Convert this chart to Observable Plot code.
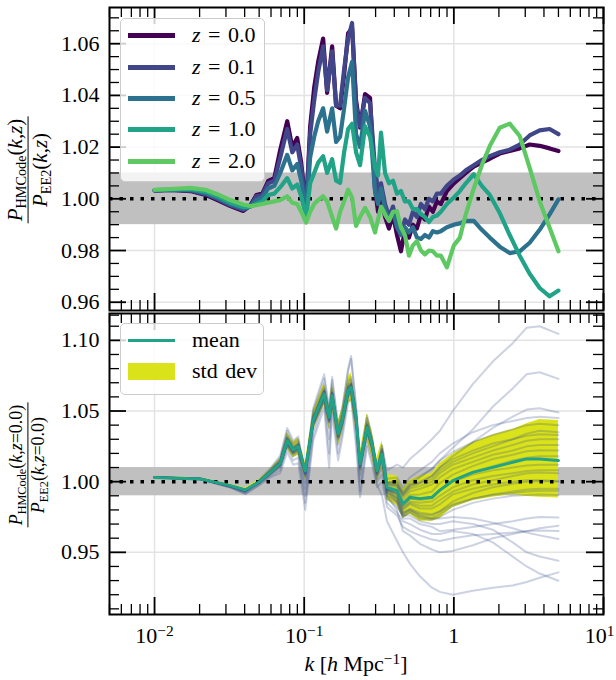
<!DOCTYPE html>
<html><head><meta charset="utf-8">
<script src="https://cdn.jsdelivr.net/npm/d3@7"></script>
<script src="https://cdn.jsdelivr.net/npm/@observablehq/plot@0.6"></script>
<style>
body{margin:0;background:#fff;}
#wrap{position:relative;width:616px;height:680px;overflow:hidden;font-family:'Liberation Serif','DejaVu Serif',serif;color:#000;}
#top,#bot{position:absolute;left:0;}
#top{top:0}
#bot{top:311px}
.legend{position:absolute;background:rgba(255,255,255,0.8);border:1.3px solid #cccccc;border-radius:5px;box-sizing:border-box;}
.sw{position:absolute;left:7px;width:47px;}
.lt{position:absolute;left:71px;font-size:22px;line-height:1;white-space:nowrap;word-spacing:2px;}
.ylab{position:absolute;transform:translate(-50%,-50%) rotate(-90deg);display:flex;flex-direction:column;align-items:center;white-space:nowrap;line-height:0.95;}
.ylab .num{border-bottom:1px solid #000;padding:0 2px 2px;}
.ylab .den{padding-top:2px;}
.ylab sub{font-size:0.68em;vertical-align:-0.3em;line-height:0;}
.xlab{position:absolute;left:356px;top:653px;transform:translateX(-50%);font-size:22px;white-space:nowrap;line-height:1;}
.xlab sup{font-size:0.7em;vertical-align:0.45em;line-height:0;}
</style></head><body>
<div id="wrap">
  <div id="top"></div>
  <div id="bot"></div>
</div>
<script>
// ---------------- DATA ----------------
const zLabels = ["0.0", "0.1", "0.5", "1.0", "2.0"];
const zColors = ["#440154", "#404688", "#2c718e", "#20a386", "#5ec962"];

const kTop = [0.0100, 0.0128, 0.0174, 0.0219, 0.0263, 0.0321, 0.0392, 0.0437, 0.0479, 0.0525, 0.0575, 0.0631, 0.0692, 0.0770, 0.0832, 0.0898, 0.0955, 0.1031, 0.1096, 0.1166, 0.1240, 0.1338, 0.1423, 0.1537, 0.1634, 0.1738, 0.1848, 0.1965, 0.2089, 0.2222, 0.2362, 0.2551, 0.2754, 0.2972, 0.3114, 0.3261, 0.3467, 0.3686, 0.3920, 0.4169, 0.4432, 0.4713, 0.5012, 0.5329, 0.5667, 0.6026, 0.6407, 0.6813, 0.7244, 0.7703, 0.8191, 0.8983, 1.000, 1.096, 1.202, 1.359, 1.537, 1.738, 2.026, 2.362, 2.754, 3.211, 3.744, 4.365, 5.000];

const ratioZ00 = [1.0032, 1.0034, 1.0030, 1.0015, 0.9995, 0.9972, 0.9953, 0.9975, 1.0015, 1.0020, 1.0069, 1.0080, 1.0190, 1.0300, 1.0200, 1.0235, 1.0140, 0.9960, 1.0280, 1.0430, 1.0530, 1.0620, 1.0410, 1.0590, 1.0360, 1.0350, 1.0480, 1.0640, 1.0660, 1.0380, 1.0275, 1.0405, 1.0390, 1.0040, 0.9950, 1.0020, 0.9930, 0.9885, 0.9940, 0.9860, 0.9797, 0.9880, 0.9850, 0.9900, 0.9885, 0.9940, 0.9920, 0.9970, 0.9950, 0.9990, 0.9980, 1.0030, 1.0060, 1.0080, 1.0100, 1.0125, 1.0140, 1.0155, 1.0175, 1.0185, 1.0195, 1.0210, 1.0205, 1.0195, 1.0185];
const ratioZ01 = [1.0033, 1.0034, 1.0032, 1.0018, 1.0000, 0.9975, 0.9958, 0.9972, 1.0010, 1.0015, 1.0060, 1.0070, 1.0160, 1.0270, 1.0180, 1.0210, 1.0120, 0.9958, 1.0250, 1.0380, 1.0490, 1.0590, 1.0420, 1.0570, 1.0360, 1.0360, 1.0500, 1.0620, 1.0680, 1.0360, 1.0280, 1.0390, 1.0370, 1.0120, 1.0030, 1.0060, 0.9980, 0.9930, 0.9970, 0.9900, 0.9860, 0.9920, 0.9900, 0.9950, 0.9930, 0.9980, 0.9960, 1.0000, 0.9990, 1.0020, 1.0020, 1.0050, 1.0075, 1.0090, 1.0110, 1.0130, 1.0150, 1.0165, 1.0180, 1.0190, 1.0210, 1.0245, 1.0265, 1.0270, 1.0250];
const ratioZ05 = [1.0033, 1.0035, 1.0035, 1.0022, 1.0004, 0.9980, 0.9962, 0.9970, 0.9995, 1.0005, 1.0040, 1.0050, 1.0100, 1.0170, 1.0110, 1.0135, 1.0070, 0.9945, 1.0160, 1.0240, 1.0300, 1.0350, 1.0260, 1.0350, 1.0220, 1.0240, 1.0350, 1.0470, 1.0530, 1.0250, 1.0200, 1.0340, 1.0280, 1.0030, 0.9980, 1.0040, 0.9960, 0.9920, 0.9950, 0.9890, 0.9860, 0.9890, 0.9870, 0.9890, 0.9850, 0.9845, 0.9860, 0.9850, 0.9875, 0.9870, 0.9875, 0.9890, 0.9900, 0.9905, 0.9915, 0.9915, 0.9880, 0.9850, 0.9815, 0.9790, 0.9797, 0.9830, 0.9880, 0.9940, 0.9998];
const ratioZ10 = [1.0034, 1.0036, 1.0038, 1.0028, 1.0010, 0.9985, 0.9968, 0.9970, 0.9980, 0.9990, 1.0015, 1.0020, 1.0045, 1.0080, 1.0040, 1.0055, 1.0010, 0.9930, 1.0060, 1.0100, 1.0140, 1.0165, 1.0100, 1.0153, 1.0070, 1.0062, 1.0180, 1.0270, 1.0290, 1.0180, 1.0130, 1.0280, 1.0240, 1.0120, 1.0090, 1.0256, 1.0100, 1.0060, 1.0070, 1.0020, 1.0030, 0.9990, 0.9990, 0.9960, 0.9960, 0.9940, 0.9930, 0.9910, 0.9930, 0.9935, 0.9950, 0.9980, 1.0005, 1.0030, 1.0060, 1.0095, 1.0050, 1.0015, 0.9945, 0.9860, 0.9780, 0.9710, 0.9655, 0.9623, 0.9645];
const ratioZ20 = [1.0035, 1.0038, 1.0042, 1.0035, 1.0018, 0.9995, 0.9978, 0.9972, 0.9975, 0.9980, 0.9985, 0.9990, 0.9995, 1.0010, 0.9985, 0.9980, 0.9950, 0.9908, 0.9950, 0.9980, 0.9995, 1.0010, 0.9990, 0.9930, 0.9885, 0.9950, 0.9990, 1.0035, 1.0005, 0.9895, 0.9930, 0.9965, 0.9930, 0.9870, 0.9920, 0.9970, 0.9940, 0.9914, 0.9950, 0.9952, 0.9890, 0.9860, 0.9780, 0.9820, 0.9836, 0.9800, 0.9785, 0.9800, 0.9797, 0.9780, 0.9780, 0.9735, 0.9820, 0.9849, 0.9940, 1.0040, 1.0130, 1.0204, 1.0275, 1.0291, 1.0243, 1.0120, 0.9991, 0.9888, 0.9797];

const kBot = [0.0100, 0.0203, 0.0321, 0.0404, 0.0494, 0.0593, 0.0692, 0.0770, 0.0845, 0.0912, 0.1016, 0.1148, 0.1359, 0.1468, 0.1537, 0.1686, 0.1793, 0.1965, 0.2057, 0.2222, 0.2362, 0.2630, 0.2840, 0.3067, 0.3311, 0.3575, 0.4169, 0.4571, 0.5088, 0.5933, 0.7134, 0.8066, 0.9848, 1.339, 1.820, 2.474, 3.067, 3.744, 5.000];
const meanRatio = [1.0030, 1.0019, 0.9972, 0.9941, 0.9995, 1.0066, 1.0130, 1.0290, 1.0225, 1.0250, 1.0075, 1.0432, 1.0621, 1.0455, 1.0609, 1.0338, 1.0432, 1.0644, 1.0668, 1.0455, 1.0125, 1.0385, 1.0267, 1.0078, 1.0196, 0.9960, 0.9936, 0.9842, 0.9889, 0.9880, 0.9889, 0.9940, 1.0007, 1.0066, 1.0101, 1.0137, 1.0161, 1.0161, 1.0149];
const stdLo = [1.0022, 1.0011, 0.9962, 0.9928, 0.9982, 1.0045, 1.0095, 1.0230, 1.0170, 1.0190, 1.0010, 1.0360, 1.0540, 1.0370, 1.0520, 1.0250, 1.0340, 1.0550, 1.0570, 1.0360, 1.0040, 1.0290, 1.0170, 0.9990, 1.0100, 0.9870, 0.9830, 0.9740, 0.9770, 0.9720, 0.9720, 0.9740, 0.9818, 0.9865, 0.9890, 0.9910, 0.9895, 0.9890, 0.9885];
const stdHi = [1.0038, 1.0027, 0.9982, 0.9955, 1.0012, 1.0087, 1.0165, 1.0350, 1.0280, 1.0310, 1.0140, 1.0500, 1.0700, 1.0540, 1.0700, 1.0430, 1.0520, 1.0740, 1.0770, 1.0550, 1.0210, 1.0480, 1.0360, 1.0170, 1.0290, 1.0050, 1.0040, 0.9950, 1.0010, 1.0040, 1.0060, 1.0130, 1.0196, 1.0278, 1.0330, 1.0370, 1.0410, 1.0440, 1.0432];

const realA = [1.0032, 1.0020, 0.9968, 0.9936, 0.9998, 1.0075, 1.0145, 1.0310, 1.0235, 1.0265, 1.0060, 1.0450, 1.0650, 1.0440, 1.0630, 1.0320, 1.0440, 1.0680, 1.0700, 1.0440, 1.0100, 1.0400, 1.0270, 1.0100, 1.0250, 1.0080, 1.0120, 1.0100, 1.0160, 1.0220, 1.0300, 1.0360, 1.0500, 1.0690, 1.0850, 1.0980, 1.1090, 1.1100, 1.1046];
const realB = [1.0031, 1.0019, 0.9970, 0.9940, 0.9996, 1.0070, 1.0140, 1.0300, 1.0230, 1.0260, 1.0070, 1.0440, 1.0640, 1.0460, 1.0620, 1.0340, 1.0450, 1.0660, 1.0690, 1.0460, 1.0130, 1.0390, 1.0280, 1.0090, 1.0210, 0.9980, 0.9980, 0.9920, 0.9980, 1.0030, 1.0090, 1.0150, 1.0240, 1.0370, 1.0530, 1.0660, 1.0760, 1.0774, 1.0727];
const realC = [1.0033, 1.0021, 0.9965, 0.9930, 1.0000, 1.0085, 1.0170, 1.0360, 1.0270, 1.0300, 1.0050, 1.0500, 1.0730, 1.0500, 1.0720, 1.0380, 1.0500, 1.0780, 1.0870, 1.0520, 1.0120, 1.0450, 1.0300, 1.0060, 1.0230, 0.9990, 0.9970, 0.9900, 0.9960, 0.9990, 1.0040, 1.0100, 1.0180, 1.0280, 1.0380, 1.0460, 1.0510, 1.0520, 1.0490];
const realD = [1.0028, 1.0016, 0.9960, 0.9915, 0.9975, 1.0040, 1.0080, 1.0240, 1.0150, 1.0170, 0.9850, 1.0320, 1.0560, 1.0200, 1.0520, 1.0200, 1.0340, 1.0600, 1.0620, 1.0300, 0.9930, 1.0280, 1.0150, 0.9980, 0.9900, 0.9720, 0.9580, 0.9500, 0.9420, 0.9330, 0.9250, 0.9220, 0.9200, 0.9228, 0.9250, 0.9265, 0.9290, 0.9320, 0.9358];
const realE = [1.0029, 1.0017, 0.9962, 0.9925, 0.9985, 1.0050, 1.0100, 1.0260, 1.0180, 1.0200, 0.9900, 1.0360, 1.0580, 1.0300, 1.0560, 1.0260, 1.0380, 1.0620, 1.0640, 1.0380, 1.0000, 1.0330, 1.0200, 1.0000, 1.0050, 0.9850, 0.9780, 0.9720, 0.9700, 0.9660, 0.9630, 0.9630, 0.9650, 0.9630, 0.9570, 0.9470, 0.9400, 0.9350, 0.9299];
const realF = [1.0030, 1.0018, 0.9966, 0.9932, 0.9990, 1.0060, 1.0115, 1.0270, 1.0200, 1.0220, 0.9950, 1.0400, 1.0600, 1.0380, 1.0590, 1.0300, 1.0410, 1.0630, 1.0650, 1.0420, 1.0050, 1.0360, 1.0230, 1.0020, 1.0100, 0.9880, 0.9820, 0.9760, 0.9760, 0.9720, 0.9700, 0.9700, 0.9720, 0.9700, 0.9660, 0.9570, 0.9500, 0.9470, 0.9440];
const realG = [1.0031, 1.0019, 0.9968, 0.9936, 0.9992, 1.0062, 1.0120, 1.0280, 1.0210, 1.0235, 0.9990, 1.0410, 1.0610, 1.0420, 1.0600, 1.0320, 1.0420, 1.0640, 1.0660, 1.0440, 1.0080, 1.0370, 1.0240, 1.0030, 1.0120, 0.9900, 0.9800, 0.9650, 0.9620, 0.9560, 0.9520, 0.9500, 0.9510, 0.9550, 0.9600, 0.9630, 0.9650, 0.9670, 0.9688];
const realH = [1.0030, 1.0019, 0.9970, 0.9938, 0.9994, 1.0064, 1.0125, 1.0285, 1.0218, 1.0242, 1.0030, 1.0420, 1.0615, 1.0440, 1.0605, 1.0330, 1.0425, 1.0640, 1.0665, 1.0450, 1.0110, 1.0380, 1.0255, 1.0050, 1.0150, 0.9930, 0.9860, 0.9740, 0.9740, 0.9700, 0.9680, 0.9650, 0.9660, 0.9680, 0.9700, 0.9720, 0.9740, 0.9750, 0.9747];
const realI = [1.0031, 1.0020, 0.9971, 0.9940, 0.9996, 1.0068, 1.0135, 1.0295, 1.0228, 1.0255, 1.0060, 1.0440, 1.0630, 1.0460, 1.0615, 1.0340, 1.0440, 1.0655, 1.0680, 1.0460, 1.0130, 1.0390, 1.0270, 1.0070, 1.0180, 0.9950, 0.9880, 0.9780, 0.9800, 0.9760, 0.9740, 0.9740, 0.9750, 0.9740, 0.9710, 0.9670, 0.9640, 0.9620, 0.9594];
const realJ = [1.0031, 1.0020, 0.9973, 0.9943, 0.9998, 1.0070, 1.0140, 1.0305, 1.0235, 1.0262, 1.0090, 1.0450, 1.0640, 1.0470, 1.0625, 1.0350, 1.0445, 1.0660, 1.0690, 1.0470, 1.0140, 1.0400, 1.0280, 1.0090, 1.0210, 0.9990, 1.0000, 0.9920, 0.9980, 0.9990, 1.0020, 1.0080, 1.0140, 1.0200, 1.0250, 1.0300, 1.0340, 1.0360, 1.0350];
const realK = [1.0030, 1.0019, 0.9972, 0.9941, 0.9995, 1.0066, 1.0128, 1.0285, 1.0222, 1.0246, 1.0078, 1.0428, 1.0612, 1.0458, 1.0602, 1.0340, 1.0430, 1.0638, 1.0662, 1.0452, 1.0128, 1.0382, 1.0265, 1.0080, 1.0196, 0.9970, 0.9960, 0.9880, 0.9930, 0.9950, 0.9980, 1.0030, 1.0090, 1.0140, 1.0190, 1.0220, 1.0250, 1.0260, 1.0260];
const realL = [1.0029, 1.0018, 0.9970, 0.9938, 0.9992, 1.0060, 1.0120, 1.0275, 1.0212, 1.0238, 1.0060, 1.0415, 1.0605, 1.0440, 1.0590, 1.0325, 1.0420, 1.0625, 1.0650, 1.0440, 1.0110, 1.0370, 1.0255, 1.0060, 1.0180, 0.9940, 0.9920, 0.9830, 0.9880, 0.9870, 0.9880, 0.9940, 1.0010, 1.0070, 1.0110, 1.0150, 1.0170, 1.0180, 1.0180];
const realM = [1.0031, 1.0020, 0.9974, 0.9944, 1.0000, 1.0072, 1.0140, 1.0300, 1.0238, 1.0262, 1.0090, 1.0445, 1.0635, 1.0470, 1.0625, 1.0350, 1.0445, 1.0660, 1.0685, 1.0465, 1.0135, 1.0395, 1.0275, 1.0085, 1.0200, 0.9950, 0.9910, 0.9810, 0.9850, 0.9830, 0.9830, 0.9870, 0.9930, 0.9980, 1.0010, 1.0040, 1.0060, 1.0065, 1.0060];
const realN = [1.0030, 1.0019, 0.9971, 0.9939, 0.9993, 1.0063, 1.0125, 1.0282, 1.0218, 1.0244, 1.0065, 1.0425, 1.0612, 1.0448, 1.0600, 1.0330, 1.0425, 1.0636, 1.0660, 1.0448, 1.0118, 1.0378, 1.0260, 1.0070, 1.0185, 0.9930, 0.9890, 0.9780, 0.9810, 0.9780, 0.9770, 0.9790, 0.9840, 0.9880, 0.9910, 0.9930, 0.9945, 0.9950, 0.9950];
const realO = [1.0029, 1.0018, 0.9968, 0.9935, 0.9988, 1.0055, 1.0110, 1.0265, 1.0200, 1.0225, 1.0040, 1.0400, 1.0590, 1.0420, 1.0575, 1.0310, 1.0405, 1.0610, 1.0635, 1.0420, 1.0090, 1.0355, 1.0240, 1.0050, 1.0160, 0.9900, 0.9850, 0.9750, 0.9780, 0.9740, 0.9730, 0.9750, 0.9800, 0.9850, 0.9880, 0.9900, 0.9905, 0.9910, 0.9905];
const realP = [1.0034, 1.0022, 0.9963, 0.9925, 1.0005, 1.0095, 1.0185, 1.0380, 1.0290, 1.0320, 1.0060, 1.0520, 1.0760, 1.0520, 1.0740, 1.0400, 1.0520, 1.0800, 1.0890, 1.0540, 1.0150, 1.0470, 1.0320, 1.0080, 1.0260, 1.0020, 1.0030, 0.9960, 1.0030, 1.0080, 1.0140, 1.0200, 1.0270, 1.0350, 1.0400, 1.0430, 1.0450, 1.0460, 1.0450];
const realQ = [1.0027, 1.0015, 0.9958, 0.9912, 0.9970, 1.0030, 1.0060, 1.0210, 1.0120, 1.0130, 0.9800, 1.0290, 1.0520, 1.0100, 1.0480, 1.0150, 1.0300, 1.0560, 1.0590, 1.0250, 0.9890, 1.0250, 1.0120, 0.9960, 1.0000, 0.9820, 0.9760, 0.9680, 0.9650, 0.9620, 0.9590, 0.9580, 0.9600, 0.9620, 0.9630, 0.9640, 0.9650, 0.9655, 0.9650];
const realR = [1.0030, 1.0020, 0.9969, 0.9937, 0.9997, 1.0072, 1.0142, 1.0305, 1.0232, 1.0258, 1.0070, 1.0445, 1.0640, 1.0455, 1.0625, 1.0335, 1.0440, 1.0665, 1.0690, 1.0455, 1.0120, 1.0395, 1.0270, 1.0075, 1.0205, 0.9975, 0.9975, 0.9900, 0.9950, 0.9970, 1.0000, 1.0060, 1.0120, 1.0170, 1.0220, 1.0260, 1.0290, 1.0300, 1.0300];
const realS = [1.0030, 1.0018, 0.9970, 0.9939, 0.9992, 1.0062, 1.0122, 1.0280, 1.0215, 1.0240, 1.0070, 1.0420, 1.0610, 1.0445, 1.0598, 1.0330, 1.0425, 1.0635, 1.0660, 1.0450, 1.0118, 1.0378, 1.0262, 1.0072, 1.0188, 0.9945, 0.9905, 0.9800, 0.9840, 0.9810, 0.9810, 0.9840, 0.9910, 0.9950, 0.9980, 1.0000, 1.0010, 1.0010, 1.0005];
const realT = [1.0031, 1.0020, 0.9970, 0.9938, 0.9998, 1.0074, 1.0148, 1.0320, 1.0245, 1.0272, 1.0070, 1.0460, 1.0660, 1.0470, 1.0640, 1.0350, 1.0455, 1.0690, 1.0720, 1.0470, 1.0130, 1.0410, 1.0285, 1.0085, 1.0220, 0.9990, 1.0010, 0.9940, 1.0000, 1.0040, 1.0090, 1.0150, 1.0210, 1.0280, 1.0330, 1.0370, 1.0400, 1.0410, 1.0400];
const realU = [1.0030, 1.0019, 0.9971, 0.9940, 0.9994, 1.0064, 1.0128, 1.0288, 1.0222, 1.0248, 1.0072, 1.0428, 1.0618, 1.0452, 1.0606, 1.0336, 1.0430, 1.0641, 1.0665, 1.0452, 1.0122, 1.0382, 1.0264, 1.0076, 1.0192, 0.9955, 0.9945, 0.9860, 0.9905, 0.9910, 0.9930, 0.9990, 1.0050, 1.0110, 1.0160, 1.0190, 1.0215, 1.0222, 1.0220];
const realV = [1.0030, 1.0019, 0.9972, 0.9942, 0.9996, 1.0068, 1.0133, 1.0293, 1.0228, 1.0253, 1.0078, 1.0436, 1.0625, 1.0460, 1.0614, 1.0342, 1.0436, 1.0648, 1.0672, 1.0458, 1.0128, 1.0388, 1.0270, 1.0080, 1.0198, 0.9950, 0.9930, 0.9840, 0.9880, 0.9880, 0.9890, 0.9940, 1.0000, 1.0050, 1.0080, 1.0100, 1.0115, 1.0120, 1.0120];
const realW = [1.0029, 1.0018, 0.9969, 0.9936, 0.9990, 1.0058, 1.0118, 1.0272, 1.0208, 1.0232, 1.0055, 1.0412, 1.0600, 1.0436, 1.0585, 1.0320, 1.0415, 1.0620, 1.0645, 1.0436, 1.0105, 1.0365, 1.0250, 1.0058, 1.0175, 0.9925, 0.9880, 0.9770, 0.9800, 0.9770, 0.9760, 0.9790, 0.9860, 0.9920, 0.9960, 0.9985, 1.0000, 1.0005, 1.0000];
const realX = [1.0032, 1.0021, 0.9967, 0.9933, 1.0001, 1.0080, 1.0155, 1.0330, 1.0255, 1.0285, 1.0080, 1.0475, 1.0680, 1.0490, 1.0660, 1.0365, 1.0470, 1.0710, 1.0740, 1.0490, 1.0140, 1.0420, 1.0295, 1.0090, 1.0230, 0.9995, 0.9990, 0.9910, 0.9970, 1.0000, 1.0040, 1.0100, 1.0160, 1.0220, 1.0270, 1.0300, 1.0325, 1.0335, 1.0330];
const realY = [1.0029, 1.0017, 0.9966, 0.9932, 0.9985, 1.0052, 1.0108, 1.0258, 1.0195, 1.0218, 1.0045, 1.0395, 1.0580, 1.0425, 1.0565, 1.0310, 1.0400, 1.0600, 1.0625, 1.0425, 1.0095, 1.0350, 1.0238, 1.0050, 1.0165, 0.9915, 0.9860, 0.9760, 0.9790, 0.9750, 0.9740, 0.9770, 0.9830, 0.9880, 0.9905, 0.9920, 0.9930, 0.9935, 0.9935];
const realZ = [1.0031, 1.0020, 0.9973, 0.9943, 0.9999, 1.0071, 1.0138, 1.0298, 1.0232, 1.0257, 1.0082, 1.0440, 1.0630, 1.0465, 1.0620, 1.0346, 1.0440, 1.0652, 1.0677, 1.0462, 1.0132, 1.0392, 1.0272, 1.0082, 1.0202, 0.9945, 0.9920, 0.9820, 0.9860, 0.9850, 0.9860, 0.9900, 0.9960, 1.0010, 1.0040, 1.0060, 1.0075, 1.0080, 1.0080];
const realizations = [realA, realB, realC, realD, realE, realF, realG, realH, realI, realJ, realK, realL, realM, realN, realO, realP, realQ, realR, realS, realT, realU, realV, realW, realX, realY, realZ];

const bandLo = 0.99, bandHi = 1.01, unity = 1.0;
const xDomain = [0.005, 10];
const xMajor = [0.01, 0.1, 1, 10];
const xTickLabels = ["10^−2", "10^−1", "1", "10^1"];
const yMajorTop = [0.96, 0.98, 1.00, 1.02, 1.04, 1.06];
const yMajorBot = [0.95, 1.00, 1.05, 1.10];

// ---------------- HELPERS ----------------
const xMinor = [];
for (const d of [0.001, 0.01, 0.1, 1]) for (let m = 2; m <= 9; m++) { const v = +(m * d).toPrecision(3); if (v >= 0.005 && v <= 10 && !xMajor.includes(v)) xMinor.push(v); }
const W = 616, ML = 109, MR = 13, PW = W - ML - MR;
const fontStyle = {fontFamily: "'Liberation Serif','DejaVu Serif',serif", fontSize: "22px", background: "transparent", color: "black", overflow: "visible"};

function tickMarks(xMaj, xMin, yMaj, yMin, PH) {
  const maj = 17, mi = 10, sw1 = 1.8, sw2 = 1.3;
  return [
    Plot.ruleX(xMaj, {x: d => d, insetBottom: PH - maj, stroke: "black", strokeWidth: sw1}),
    Plot.ruleX(xMaj, {x: d => d, insetTop: PH - maj, stroke: "black", strokeWidth: sw1}),
    Plot.ruleX(xMin, {x: d => d, insetBottom: PH - mi, stroke: "black", strokeWidth: sw2}),
    Plot.ruleX(xMin, {x: d => d, insetTop: PH - mi, stroke: "black", strokeWidth: sw2}),
    Plot.ruleY(yMaj, {y: d => d, insetRight: PW - maj, stroke: "black", strokeWidth: sw1}),
    Plot.ruleY(yMaj, {y: d => d, insetLeft: PW - maj, stroke: "black", strokeWidth: sw1}),
    Plot.ruleY(yMin, {y: d => d, insetRight: PW - mi, stroke: "black", strokeWidth: sw2}),
    Plot.ruleY(yMin, {y: d => d, insetLeft: PW - mi, stroke: "black", strokeWidth: sw2})
  ];
}
function minorY(lo, hi, step, majors) {
  const out = [];
  for (let v = lo; v <= hi + 1e-9; v += step) { const r = +v.toFixed(4); if (!majors.some(m => Math.abs(m - r) < 1e-6)) out.push(r); }
  return out;
}

// ---------------- TOP PANEL ----------------
const topH = 312, topMT = 7, topMB = 2, topPH = topH - topMT - topMB;
const topSeries = [ratioZ00, ratioZ01, ratioZ05, ratioZ10, ratioZ20];
const topRows = topSeries.map((arr, j) => kTop.map((k, i) => ({k, v: arr[i], z: zLabels[j]})));
const bandRow = [{lo: bandLo, hi: bandHi}];

const topPlot = Plot.plot({
  width: W, height: topH, marginLeft: ML, marginRight: MR, marginTop: topMT, marginBottom: topMB,
  style: fontStyle,
  x: {type: "log", domain: xDomain, axis: null},
  y: {domain: [0.9568, 1.074], axis: null},
  marks: [
    Plot.gridX(xMajor.slice(0, 3), {stroke: "#e3e3e3", strokeOpacity: 1, strokeWidth: 1.5}),
    Plot.gridY(yMajorTop, {stroke: "#e3e3e3", strokeOpacity: 1, strokeWidth: 1.5}),
    Plot.rect(bandRow, {x1: () => xDomain[0], x2: () => xDomain[1], y1: "lo", y2: "hi", fill: "#c0c0c0"}),
    Plot.ruleY([unity], {stroke: "black", strokeWidth: 3.5, strokeDasharray: "3.5,7"}),
    ...topRows.map((rows, j) => Plot.line(rows, {x: "k", y: "v", stroke: zColors[j], strokeWidth: 4.2})),
    ...tickMarks(xMajor, xMinor, yMajorTop, minorY(0.955, 1.07, 0.005, yMajorTop), topPH),
    Plot.axisY(yMajorTop, {tickSize: 0, tickPadding: 10, tickFormat: d3.format(".2f"), label: null}),
    Plot.frame({stroke: "black", strokeWidth: 2})
  ]
});
document.getElementById("top").append(topPlot);

// ---------------- BOTTOM PANEL ----------------
const botH = 369, botMT = 2, botMB = 66, botPH = botH - botMT - botMB;
const realRows = realizations.flatMap((arr, j) => kBot.map((k, i) => ({k, v: arr[i], id: j})));
const statRows = kBot.map((k, i) => ({k, mean: meanRatio[i], lo: stdLo[i], hi: stdHi[i]}));

const botPlot = Plot.plot({
  width: W, height: botH, marginLeft: ML, marginRight: MR, marginTop: botMT, marginBottom: botMB,
  style: fontStyle,
  x: {type: "log", domain: xDomain},
  y: {domain: [0.906, 1.119], axis: null},
  marks: [
    Plot.gridX(xMajor.slice(0, 3), {stroke: "#e3e3e3", strokeOpacity: 1, strokeWidth: 1.5}),
    Plot.gridY(yMajorBot, {stroke: "#e3e3e3", strokeOpacity: 1, strokeWidth: 1.5}),
    Plot.rect(bandRow, {x1: () => xDomain[0], x2: () => xDomain[1], y1: "lo", y2: "hi", fill: "#c0c0c0"}),
    Plot.areaY(statRows, {x: "k", y1: "lo", y2: "hi", fill: "#dae319", fillOpacity: 1}),
    Plot.line(realRows, {x: "k", y: "v", z: "id", stroke: "#3b528b", strokeOpacity: 0.26, strokeWidth: 2}),
    Plot.ruleY([unity], {stroke: "black", strokeWidth: 3.5, strokeDasharray: "3.5,7"}),
    Plot.line(statRows, {x: "k", y: "mean", stroke: "#20a386", strokeWidth: 3}),
    ...tickMarks(xMajor, xMinor, yMajorBot, minorY(0.91, 1.11, 0.01, yMajorBot), botPH),
    Plot.axisY(yMajorBot, {tickSize: 0, tickPadding: 10, tickFormat: d3.format(".2f"), label: null}),
    Plot.axisX(xMajor, {tickSize: 0, tickPadding: 13, label: null, tickFormat: d => xTickLabels[xMajor.indexOf(d)]}),
    Plot.frame({stroke: "black", strokeWidth: 2})
  ]
});
document.getElementById("bot").append(botPlot);

// superscript exponents in x tick labels
const NS = "http://www.w3.org/2000/svg";
const xLabelTexts = [...botPlot.querySelectorAll('[aria-label="x-axis tick label"] text')];
xLabelTexts.forEach((t, idx) => {
  const s = t.textContent, i = s.indexOf("^");
  if (i < 0) return;
  t.textContent = "";
  const a = document.createElementNS(NS, "tspan"); a.textContent = s.slice(0, i);
  const b = document.createElementNS(NS, "tspan"); b.setAttribute("dy", "-0.45em"); b.setAttribute("font-size", "0.7em"); b.textContent = s.slice(i + 1);
  t.append(a, b);
  if (idx === xLabelTexts.length - 1) t.setAttribute("dx", "-4");
});

// ---------------- LEGENDS & LABELS (HTML) ----------------
const wrap = document.getElementById("wrap");
function el(tag, cls, css, html) { const e = document.createElement(tag); if (cls) e.className = cls; Object.assign(e.style, css || {}); if (html != null) e.innerHTML = html; return e; }

const leg1 = el("div", "legend", {left: "120px", top: "18px", width: "145px", height: "164px"});
const legY = [16, 48, 79, 110, 142];
zLabels.forEach((z, j) => {
  leg1.append(el("div", "sw", {top: (legY[j] - 2) + "px", height: "4.5px", background: zColors[j]}));
  leg1.append(el("div", "lt", {top: (legY[j] - 11) + "px"}, `<i>z</i> = ${z}`));
});
wrap.append(leg1);

const leg2 = el("div", "legend", {left: "120px", top: "323px", width: "144px", height: "72px"});
leg2.append(el("div", "sw", {top: "15px", height: "3px", background: "#20a386"}));
leg2.append(el("div", "lt", {top: "5px"}, "mean"));
leg2.append(el("div", "sw", {top: "39px", height: "17px", background: "#dae319"}));
leg2.append(el("div", "lt", {top: "36px"}, "std dev"));
wrap.append(leg2);

wrap.append(el("div", "ylab", {left: "28px", top: "170px", fontSize: "21px"},
  `<div class="num"><i>P</i><sub>HMCode</sub>(<i>k</i>,<i>z</i>)</div><div class="den"><i>P</i><sub>EE2</sub>(<i>k</i>,<i>z</i>)</div>`));
wrap.append(el("div", "ylab", {left: "28px", top: "465px", fontSize: "18px"},
  `<div class="num"><i>P</i><sub>HMCode</sub>(<i>k</i>,<i>z</i>=0.0)</div><div class="den"><i>P</i><sub>EE2</sub>(<i>k</i>,<i>z</i>=0.0)</div>`));
wrap.append(el("div", "xlab", {}, `<i>k</i> [<i>h</i> Mpc<sup>−1</sup>]`));
</script>
</body></html>
